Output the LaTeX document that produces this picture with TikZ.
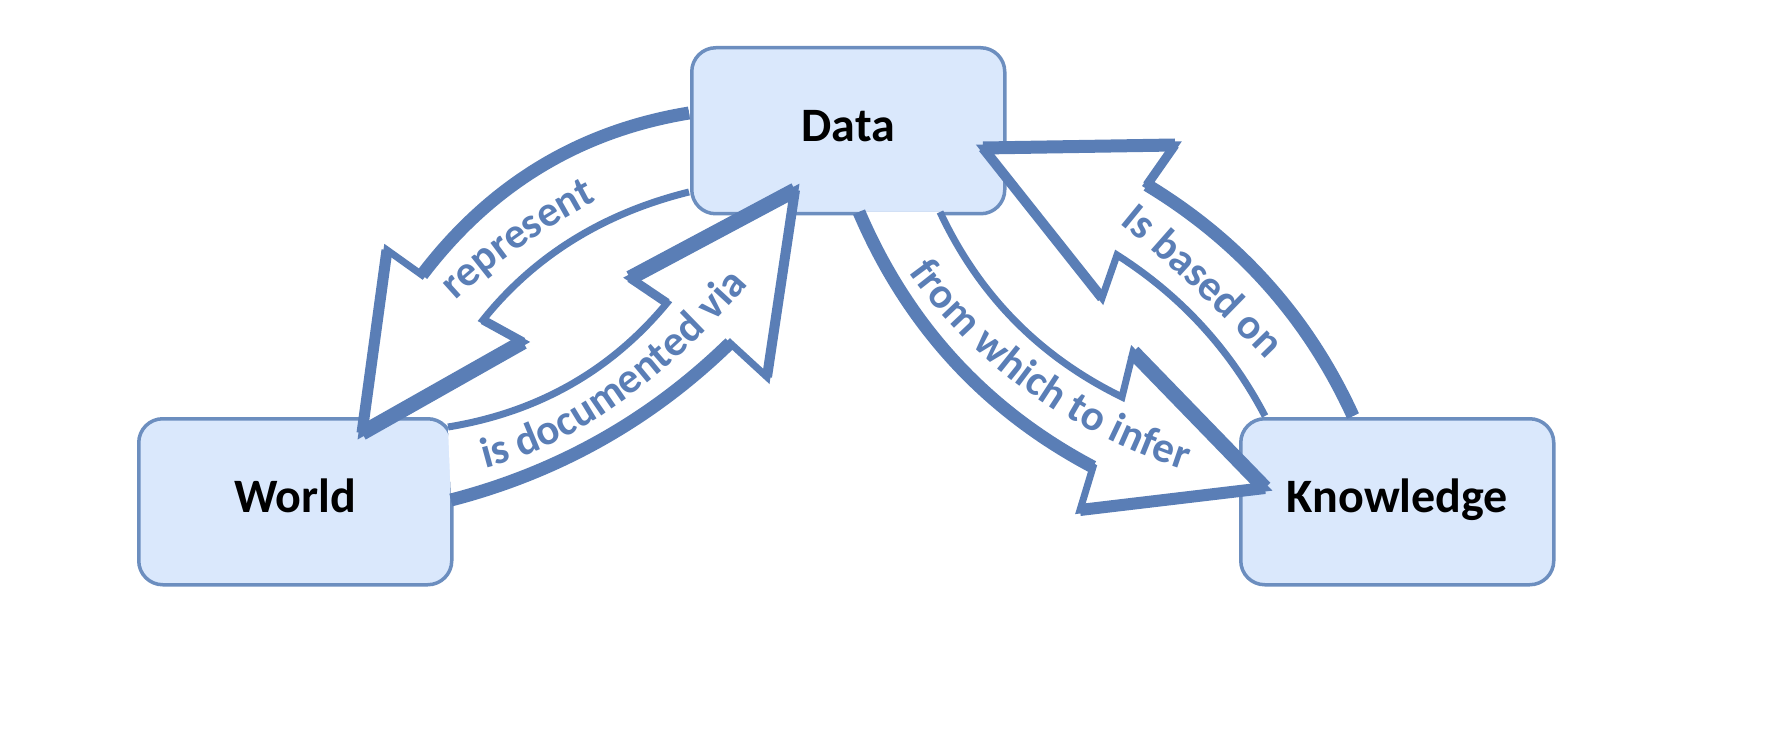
\documentclass[tikz,border=0pt]{standalone}
\usepackage{fontspec}
\setmainfont{Carlito}
\usetikzlibrary{decorations.text}
\definecolor{arrowblue}{HTML}{5A7EB6}
\definecolor{boxfill}{HTML}{DAE8FC}
\definecolor{boxline}{HTML}{6C8EBF}
\newcommand\lblfont{\fontsize{43}{50}\selectfont\bfseries}
\begin{document}
\begin{tikzpicture}[x=1pt,y=-1pt,
  box/.style={draw=boxline,line width=3.5pt,fill=boxfill,rounded corners=24pt,
    minimum width=313pt,minimum height=166pt,anchor=north west,inner sep=0pt,
    font=\fontsize{48}{58}\selectfont\bfseries,text height=33pt,text depth=12pt},
  blockfill/.style={fill=white},
  thinline/.style={draw=arrowblue,line width=7pt,line join=miter,miter limit=8},
  thickarc/.style={draw=arrowblue,line width=13pt,line cap=butt},
  headline/.style={draw=arrowblue,line width=#1,line cap=butt,line join=miter,miter limit=8},
  lbl/.style={decorate,decoration={text along path,text={|\lblfont|#1},
    text align=center,text color=arrowblue}}]
\useasboundingbox (0,0) rectangle (1788,730);

% boxes
\node[box] (data) at (690,46) {Data};
\node[box] (world) at (137,417) {World};
\node[box] (knowledge) at (1239,417) {Knowledge};

% arrow: represent (Data -> World)
\fill[blockfill] (689,113) .. controls (579.3,131) and (490.3,185) .. (422,275) -- (387,250) -- (362,433) -- (523,342) -- (483,320) .. controls (534.3,256) and (603,213.3) .. (689,192) -- cycle;
\draw[thinline] (689,113) .. controls (579.3,131) and (490.3,185) .. (422,275) -- (387,250) -- (362,433) -- (523,342) -- (483,320) .. controls (534.3,256) and (603,213.3) .. (689,192);
\draw[thickarc] (689,113) .. controls (579.3,131) and (490.3,185) .. (422,275);
\draw[headline=11pt] (387,250) -- (362,433);
\draw[headline=15pt] (362,433) -- (523,342);
\draw[headline=9pt] (523,342) -- (483,320);

% arrow: is documented via (World -> Data)
\fill[blockfill] (451,500) .. controls (558,472.3) and (651,420) .. (730,343) -- (767,377) -- (795,190) -- (630,278) -- (667,303) .. controls (610.7,371) and (537.7,412.3) .. (448,427) -- cycle;
\draw[thinline] (451,500) .. controls (558,472.3) and (651,420) .. (730,343) -- (767,377) -- (795,190) -- (630,278) -- (667,303) .. controls (610.7,371) and (537.7,412.3) .. (448,427);
\draw[thickarc] (451,500) .. controls (558,472.3) and (651,420) .. (730,343);
\draw[headline=10pt] (767,377) -- (795,190);
\draw[headline=15pt] (795,190) -- (630,278);
\draw[headline=9pt] (630,278) -- (667,303);

% arrow: from which to infer (Data -> Knowledge)
\fill[blockfill] (859,212) .. controls (907.7,325.7) and (985.7,410.3) .. (1093,467) -- (1080,510) -- (1265,488) -- (1133,352) -- (1122,397) .. controls (1040,357) and (979.3,295.7) .. (940,212) -- cycle;
\draw[thinline] (859,212) .. controls (907.7,325.7) and (985.7,410.3) .. (1093,467) -- (1080,510) -- (1265,488) -- (1133,352) -- (1122,397) .. controls (1040,357) and (979.3,295.7) .. (940,212);
\draw[thickarc] (859,212) .. controls (907.7,325.7) and (985.7,410.3) .. (1093,467);
\draw[headline=12pt] (1080,510) -- (1265,488);
\draw[headline=15pt] (1265,488) -- (1133,352);

% arrow: Is based on (Knowledge -> Data)
\fill[blockfill] (1353,416) .. controls (1308.3,318.3) and (1239.7,241) .. (1147,185) -- (1175,145) -- (983,148) -- (1102,298) -- (1117,255) .. controls (1181,295.7) and (1230.3,349.7) .. (1265,416) -- cycle;
\draw[thinline] (1353,416) .. controls (1308.3,318.3) and (1239.7,241) .. (1147,185) -- (1175,145) -- (983,148) -- (1102,298) -- (1117,255) .. controls (1181,295.7) and (1230.3,349.7) .. (1265,416);
\draw[thickarc] (1353,416) .. controls (1308.3,318.3) and (1239.7,241) .. (1147,185);
\draw[headline=9pt] (1147,185) -- (1175,145);
\draw[headline=13pt] (1175,145) -- (983,148);
\draw[headline=10pt] (983,148) -- (1102,298);

% labels
\path[lbl={represent}] (447,308) .. controls (494.3,262.7) and (547.7,225.3) .. (607,196);
\path[lbl={is documented via}] (475,471) .. controls (568,450.7) and (661.7,385.7) .. (756,276);
\path[lbl={from which to infer}] (905,268) .. controls (974,365.3) and (1069,433.3) .. (1190,472);
\path[lbl={Is based on}] (1118,222) .. controls (1162.7,258) and (1212.7,304.7) .. (1268,362);
\end{tikzpicture}
\end{document}
